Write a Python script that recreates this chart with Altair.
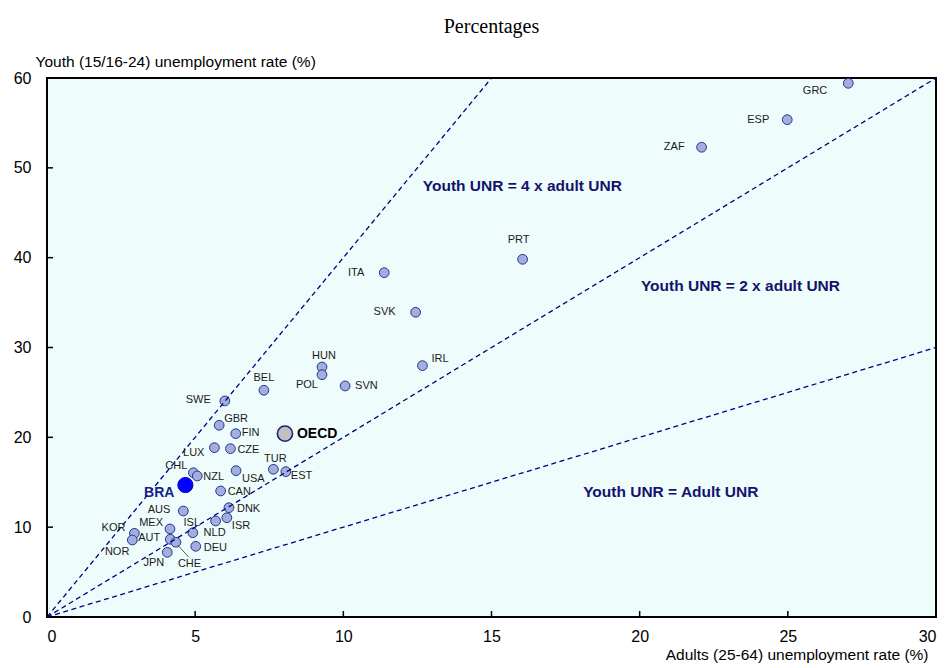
import altair as alt
import pandas as pd

# ---- data ----
codes = ["GRC", "ESP", "ZAF", "PRT", "ITA", "SVK", "IRL", "HUN", "POL", "SVN",
         "BEL", "SWE", "GBR", "FIN", "LUX", "CZE", "CHL", "NZL", "USA", "TUR",
         "EST", "CAN", "AUS", "DNK", "ISR", "NLD", "ISL", "MEX", "KOR", "NOR",
         "AUT", "CHE", "JPN", "DEU"]
adult_unr = [27.04, 24.98, 22.09, 16.05, 11.38, 12.44, 12.67, 9.28, 9.28, 10.06,
             7.32, 6.00, 5.81, 6.37, 5.65, 6.19, 4.94, 5.07, 6.38, 7.64,
             8.06, 5.86, 4.60, 6.14, 6.07, 5.69, 4.92, 4.15, 2.95, 2.88,
             4.16, 4.35, 4.06, 5.02]
youth_unr = [59.41, 55.36, 52.29, 39.82, 38.33, 33.92, 27.98, 27.83, 26.97, 25.72,
             25.24, 24.05, 21.34, 20.41, 18.85, 18.74, 16.06, 15.70, 16.29, 16.44,
             16.18, 14.03, 11.80, 12.17, 11.05, 10.69, 9.38, 9.80, 9.32, 8.57,
             8.65, 8.32, 7.20, 7.87]

bra_code, bra_adult, bra_youth = "BRA", 4.67, 14.69
oecd_code, oecd_adult, oecd_youth = "OECD", 8.03, 20.41

ratio_multipliers = [1, 2, 4]
ratio_labels = ["Youth UNR = Adult UNR", "Youth UNR = 2 x adult UNR", "Youth UNR = 4 x adult UNR"]
ratio_label_x = [21.05, 23.4, 16.04]
ratio_label_y = [13.95, 36.8, 48.0]

x_ticks = [0, 5, 10, 15, 20, 25, 30]
y_ticks = [0, 10, 20, 30, 40, 50, 60]
X_MAX, Y_MAX = 30, 60

# label placement: align, dx, dy (pixels)
label_place = {
    "GRC": ("right", -21, 8), "ESP": ("right", -18, 0), "ZAF": ("right", -17, 0),
    "PRT": ("center", -4, -19), "ITA": ("right", -20, 0), "SVK": ("right", -20, 0),
    "IRL": ("left", 9, -7), "HUN": ("center", 2, -11), "POL": ("right", -4, 10),
    "SVN": ("left", 10, 0), "BEL": ("center", 0, -12), "SWE": ("right", -14, -1),
    "GBR": ("left", 5, -6), "FIN": ("left", 6, -1), "LUX": ("right", -10, 5),
    "CZE": ("left", 7, 1), "CHL": ("right", -6, -7), "NZL": ("left", 6, 1),
    "USA": ("left", 6, 8), "TUR": ("center", 2, -10), "EST": ("left", 5, 4),
    "CAN": ("left", 7, 1), "AUS": ("right", -13, -1), "DNK": ("left", 8, 1),
    "ISR": ("left", 5, 8), "NLD": ("center", -1, 12), "ISL": ("center", -1, -10),
    "MEX": ("right", -7, -6), "KOR": ("right", -9, -5), "AUT": ("right", -10, -1),
    "NOR": ("right", -3, 12), "CHE": ("left", 2, 22), "JPN": ("right", -3, 11),
    "DEU": ("left", 8, 2),
}

SANS = "Liberation Sans, Arial, sans-serif"
NAVY = "#13136b"

df = pd.DataFrame({"code": codes, "adult": adult_unr, "youth": youth_unr})
bra = pd.DataFrame({"code": [bra_code], "adult": [bra_adult], "youth": [bra_youth]})
oecd = pd.DataFrame({"code": [oecd_code], "adult": [oecd_adult], "youth": [oecd_youth]})

x_enc = alt.X("adult:Q", scale=alt.Scale(domain=[0, X_MAX], nice=False),
              axis=alt.Axis(values=x_ticks, grid=False, ticks=False, domain=False,
                            labelPadding=11, labelFontSize=16, labelFont=SANS,
                            labelColor="black",
                            title="Adults (25-64) unemployment rate (%)",
                            titleX=881, titleY=42, titleAlign="right", titleAnchor="end",
                            titleBaseline="alphabetic", titleFont=SANS, titleFontSize=15.5,
                            titleFontWeight="normal", titleColor="black"))
y_enc = alt.Y("youth:Q", scale=alt.Scale(domain=[0, Y_MAX], nice=False),
              axis=alt.Axis(values=y_ticks, grid=False, ticks=False, domain=False,
                            labelPadding=16, labelFontSize=16, labelFont=SANS,
                            labelColor="black",
                            title="Youth (15/16-24) unemployment rate (%)",
                            titleAngle=0, titleX=-12, titleY=-12, titleAlign="left",
                            titleBaseline="alphabetic", titleFont=SANS, titleFontSize=15.5,
                            titleFontWeight="normal", titleColor="black"))

# reference ratio lines y = k * x
lines_df = pd.DataFrame({
    "k": ratio_multipliers,
    "x0": [0] * 3, "y0": [0] * 3,
    "x1": [min(X_MAX, Y_MAX / k) for k in ratio_multipliers],
})
lines_df["y1"] = lines_df["k"] * lines_df["x1"]
lines = alt.Chart(lines_df).mark_rule(color="#000080", strokeDash=[5, 3.5], strokeWidth=1.3).encode(
    x=alt.X("x0:Q", scale=alt.Scale(domain=[0, X_MAX], nice=False)),
    y=alt.Y("y0:Q", scale=alt.Scale(domain=[0, Y_MAX], nice=False)),
    x2="x1:Q", y2="y1:Q")

ann_df = pd.DataFrame({"t": ratio_labels, "adult": ratio_label_x, "youth": ratio_label_y})
ann = alt.Chart(ann_df).mark_text(font=SANS, fontSize=15.5, fontWeight="bold", color=NAVY,
                                  align="center", baseline="middle").encode(
    x="adult:Q", y="youth:Q", text="t:N")

points = alt.Chart(df).mark_point(filled=True, shape="circle", size=95, fill="#a0aee0",
                                  stroke="#28348a", strokeWidth=1, opacity=1).encode(x=x_enc, y=y_enc)

bra_pt = alt.Chart(bra).mark_point(filled=True, shape="circle", size=230, fill="#0000ff",
                                   stroke="#0000cc", strokeWidth=1, opacity=1).encode(x="adult:Q", y="youth:Q")
oecd_pt = alt.Chart(oecd).mark_point(filled=True, shape="circle", size=230, fill="#c0c0c0",
                                     stroke="#1b1f6e", strokeWidth=1.6, opacity=1).encode(x="adult:Q", y="youth:Q")

bra_lab = alt.Chart(bra).mark_text(font=SANS, fontSize=14, fontWeight="bold", color="#1b1f8a",
                                   align="right", baseline="middle", dx=-11, dy=8).encode(
    x="adult:Q", y="youth:Q", text="code:N")
oecd_lab = alt.Chart(oecd).mark_text(font=SANS, fontSize=14, fontWeight="bold", color="black",
                                     align="left", baseline="middle", dx=12, dy=0).encode(
    x="adult:Q", y="youth:Q", text="code:N")

label_layers = []
for c in codes:
    al, dx, dy = label_place[c]
    label_layers.append(
        alt.Chart(df).transform_filter(alt.datum.code == c).mark_text(
            font=SANS, fontSize=11, color="#1a1a1a", align=al, baseline="middle", dx=dx, dy=dy
        ).encode(x="adult:Q", y="youth:Q", text="code:N")
    )

# leader line for CHE
leader = alt.Chart(df).transform_filter(alt.datum.code == "CHE").mark_rule(
    color="#333333", strokeWidth=0.8, xOffset=2, yOffset=3, x2Offset=13, y2Offset=15
).encode(x="adult:Q", y="youth:Q", x2="adult:Q", y2="youth:Q")

# inward tick marks
xt = pd.DataFrame({"v": x_ticks[1:-1]})
yt = pd.DataFrame({"v": y_ticks[1:-1]})
xticks = alt.Chart(xt).mark_rule(color="black", strokeWidth=1.5).encode(
    x="v:Q", y=alt.value(539), y2=alt.value(533))
yticks = alt.Chart(yt).mark_rule(color="black", strokeWidth=1.5).encode(
    y="v:Q", x=alt.value(0), x2=alt.value(6))

chart = alt.layer(points, lines, leader, *label_layers, bra_pt, oecd_pt, bra_lab, oecd_lab,
                  ann, xticks, yticks).properties(
    width=889, height=539,
    title=alt.TitleParams("Percentages", font="Liberation Serif", fontSize=20,
                          fontWeight="normal", color="black", anchor="middle", offset=17),
    padding={"left": 39, "top": 70, "right": 1, "bottom": 52},
    autosize=alt.AutoSizeParams(type="none"),
).configure_view(
    fill="#effcfc", stroke="black", strokeWidth=2
)

chart.save("out.html", embed_options={"renderer": "svg", "actions": False})
